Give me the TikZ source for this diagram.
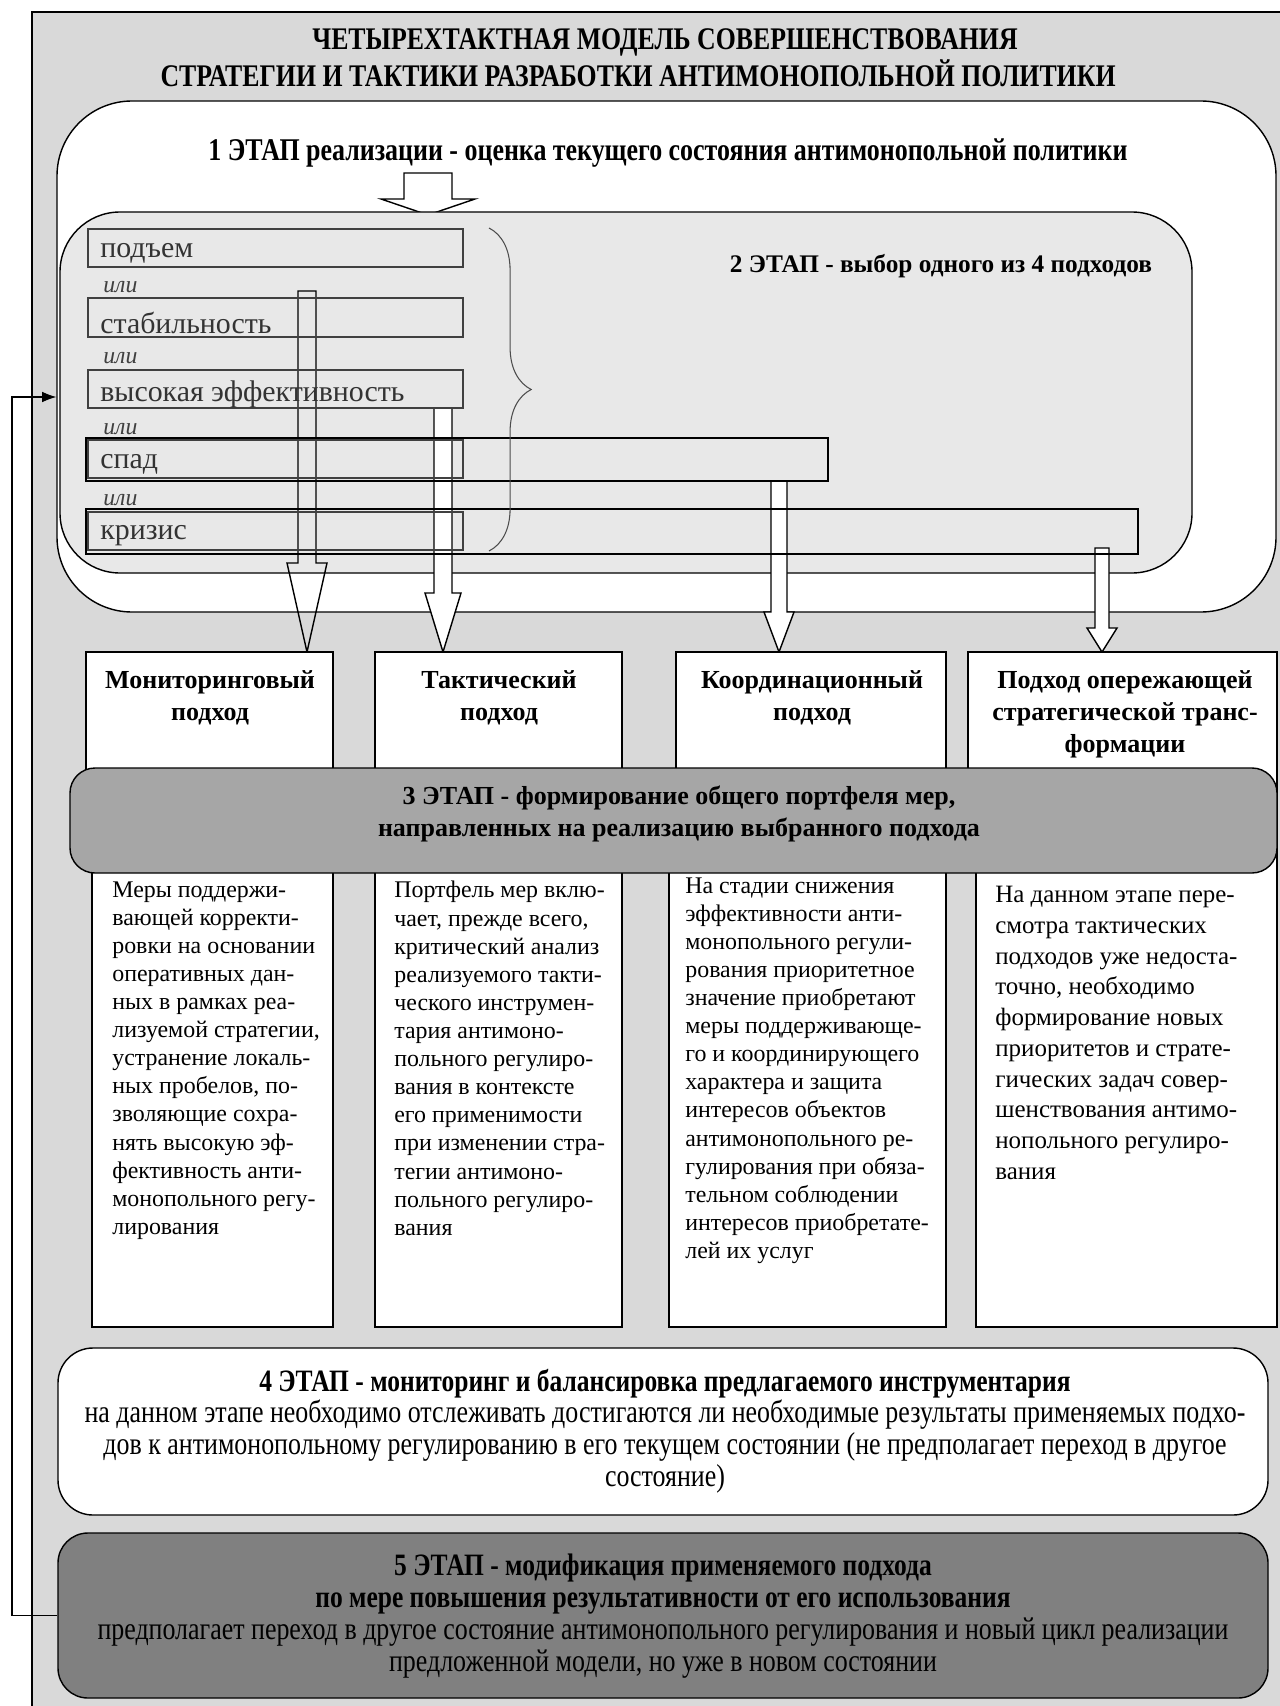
\documentclass[tikz,border=0pt]{standalone}
\usepackage{fontspec}
\setmainfont{Liberation Serif}
\newfontfamily\narrowserif{Liberation Serif}[FakeStretch=0.82]
\usetikzlibrary{fit,arrows.meta,decorations.pathreplacing}

\definecolor{bggray}{HTML}{D9D9D9}
\definecolor{choicegray}{HTML}{E8E8E8}
\definecolor{barrgray}{HTML}{A6A6A6}
\definecolor{darkgray}{HTML}{808080}

% hollow block arrow: style, x, top, head start, tip, half shaft, half head
\newcommand{\blockarrow}[7]{%
  \draw[#1] (#2-#6,#3) -- (#2-#6,#4) -- (#2-#7,#4) -- (#2,#5)
    -- (#2+#7,#4) -- (#2+#6,#4) -- (#2+#6,#3) -- cycle;}

\begin{document}
\begin{tikzpicture}[x=0.02cm,y=-0.02cm,
  stage/.style={draw, line width=0.8pt, inner sep=0pt},
  optbox/.style={draw=black!75, line width=0.7pt, inner sep=0pt},
  longbox/.style={draw, line width=1.1pt, inner sep=0pt},
  apbox/.style={draw, fill=white, line width=0.8pt, inner sep=0pt},
  titletext/.style={inner sep=0pt, font=\narrowserif\bfseries\fontsize{17.9}{18}\selectfont},
  opttext/.style={anchor=west, inner sep=0pt, text=black!80, font=\fontsize{17}{18}\selectfont},
  ortext/.style={anchor=west, inner sep=0pt, text=black!75, font=\fontsize{13.5}{14}\selectfont\itshape},
  headtext/.style={align=center, inner sep=0pt, font=\fontsize{14.8}{18.2}\selectfont\bfseries},
  bodytext/.style={align=left, anchor=north west, inner sep=0pt, font=\fontsize{13.6}{16}\selectfont},
  stagetext/.style={align=center, inner sep=0pt, font=\narrowserif\fontsize{18}{18.1}\selectfont},
  hollow/.style={draw, line width=0.8pt, line join=miter},
  feedback/.style={-{Latex[length=8pt,width=6pt]}, line width=0.6pt}]

\useasboundingbox (0,0) rectangle (1279,1706);

% background and title
\node[stage, fill=bggray, fit={(32,12) (1320,1750)}] (frame) {};
\node[titletext] (title1) at (665,42) {ЧЕТЫРЕХТАКТНАЯ МОДЕЛЬ СОВЕРШЕНСТВОВАНИЯ};
\node[titletext] (title2) at (638,73) {СТРАТЕГИИ И ТАКТИКИ РАЗРАБОТКИ АНТИМОНОПОЛЬНОЙ ПОЛИТИКИ};

% stage 1
\node[stage, fill=white, rounded corners=1.5cm, fit={(57,101) (1276,612)}] (s1) {};
\node[inner sep=0pt, font=\narrowserif\bfseries\fontsize{18}{20}\selectfont] (s1text) at (668,153)
  {1 ЭТАП реализации - оценка текущего состояния антимонопольной политики};
\blockarrow{hollow, fill=white}{428}{173}{199}{215}{24}{47}

% stage 2
\node[stage, fill=choicegray, rounded corners=1.2cm, fit={(60,212) (1192,573)}] (s2) {};
\node[inner sep=0pt, font=\bfseries\fontsize{14.4}{16}\selectfont] (s2text) at (941,266)
  {2 ЭТАП - выбор одного из 4 подходов};

% arrows down to the approaches
\blockarrow{hollow}{307}{291}{563}{652}{9}{20}
\blockarrow{hollow, fill=white}{443}{408}{593}{652}{9}{18}
\blockarrow{hollow, fill=white}{779}{481}{612}{652}{8}{15}
\blockarrow{hollow, fill=white}{1102}{548}{628}{652}{7}{15}

% states
\node[optbox, fit={(88,229) (463,267)}] (up) {};
\node[optbox, fit={(88,298) (463,337)}] (stable) {};
\node[optbox, fit={(88,370) (463,408)}] (high) {};
\node[optbox, fit={(88,440) (463,478)}] (fall) {};
\node[optbox, fit={(88,512) (463,550)}] (crisis) {};
\node[longbox, fit={(86,438) (828,481)}] (fall2) {};
\node[longbox, fit={(86,509) (1138,554)}] (crisis2) {};
\node[opttext] (uptext) at (100,253) {подъем};
\node[opttext] (stabletext) at (100,323) {стабильность};
\node[opttext] (hightext) at (100,394) {высокая эффективность};
\node[opttext] (falltext) at (100,464) {спад};
\node[opttext] (crisistext) at (100,536) {кризис};
\node[ortext] (or1) at (103,287) {или};
\node[ortext] (or2) at (103,358) {или};
\node[ortext] (or3) at (103,429) {или};
\node[ortext] (or4) at (103,500) {или};
\draw[black!70, line width=0.6pt, decorate, decoration={brace, amplitude=24pt}] (489,228) -- (489,551);

% approaches
\node[apbox, fit={(86,652) (333,800)}] (app1) {};
\node[apbox, fit={(375,652) (622,800)}] (app2) {};
\node[apbox, fit={(676,652) (946,800)}] (app3) {};
\node[apbox, fit={(968,652) (1277,800)}] (app4) {};
\node[apbox, fit={(92,800) (333,1327)}] (txt1) {};
\node[apbox, fit={(375,800) (622,1327)}] (txt2) {};
\node[apbox, fit={(669,800) (946,1327)}] (txt3) {};
\node[apbox, fit={(976,800) (1277,1327)}] (txt4) {};
\node[headtext] (head1) at (210,698) {Мониторинговый\\подход};
\node[headtext] (head2) at (499,698) {Тактический\\подход};
\node[headtext] (head3) at (812,698) {Координационный\\подход};
\node[headtext] (head4) at (1125,714) {Подход опережающей\\стратегической транс-\\формации};
\node[bodytext] (body1) at (112,881) {Меры поддержи-\\вающей корректи-\\ровки на основании\\оперативных дан-\\ных  в рамках реа-\\лизуемой стратегии,\\устранение локаль-\\ных пробелов, по-\\зволяющие сохра-\\нять высокую эф-\\фективность анти-\\монопольного регу-\\лирования};
\node[bodytext] (body2) at (394,881) {Портфель мер вклю-\\чает, прежде всего,\\критический анализ\\реализуемого такти-\\ческого инструмен-\\тария антимоно-\\польного регулиро-\\вания в контексте\\его применимости\\при изменении стра-\\тегии антимоно-\\польного регулиро-\\вания};
\node[bodytext] (body3) at (685,877) {На стадии снижения\\эффективности анти-\\монопольного регули-\\рования приоритетное\\значение приобретают\\меры поддерживающе-\\го и координирующего\\характера и защита\\интересов объектов\\антимонопольного ре-\\гулирования при обяза-\\тельном соблюдении\\интересов приобретате-\\лей их услуг};
\node[bodytext, font=\fontsize{14.2}{17.5}\selectfont] (body4) at (995,886) {На данном  этапе пере-\\смотра тактических\\подходов уже недоста-\\точно, необходимо\\формирование новых\\приоритетов и страте-\\гических задач совер-\\шенствования антимо-\\нопольного регулиро-\\вания};

% stage 3
\node[stage, fill=barrgray, rounded corners=0.5cm, fit={(70,768) (1277,873)}] (s3) {};
\node[headtext] (s3text) at (679,814) {3 ЭТАП - формирование общего портфеля мер,\\направленных на реализацию выбранного подхода};

% stages 4 and 5
\node[stage, fill=white, rounded corners=0.7cm, fit={(58,1348) (1268,1515)}] (s4) {};
\node[stagetext] (s4text) at (665,1431) {{\bfseries\fontsize{17.7}{18.1}\selectfont 4 ЭТАП - мониторинг и балансировка предлагаемого инструментария}\\на данном  этапе  необходимо отслеживать  достигаются ли необходимые результаты применяемых подхо-\\дов к антимонопольному регулированию в его текущем состоянии (не предполагает переход в другое\\состояние)};
\node[stage, fill=darkgray, rounded corners=0.6cm, fit={(58,1533) (1268,1698)}] (s5) {};
\node[stagetext] (s5text) at (663,1616) {{\bfseries\fontsize{17.7}{18.1}\selectfont 5 ЭТАП - модификация применяемого подхода}\\{\bfseries\fontsize{17.7}{18.1}\selectfont по мере повышения результативности от его использования}\\предполагает переход в другое состояние антимонопольного  регулирования и новый цикл реализации\\предложенной модели, но уже в новом состоянии};

% back to stage 1
\coordinate (fb) at (12,397);
\draw[feedback] (s5.west) -| (fb) -- (fb -| s1.west);
\end{tikzpicture}
\end{document}
